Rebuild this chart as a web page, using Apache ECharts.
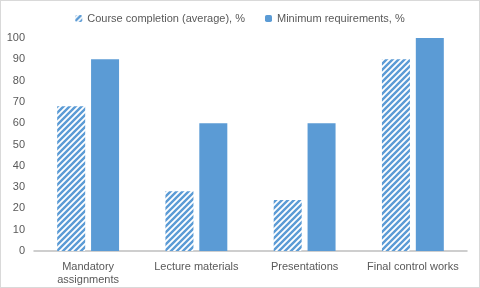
<!DOCTYPE html>
<html>
<head>
<meta charset="utf-8">
<script src="https://cdn.jsdelivr.net/npm/echarts@6/dist/echarts.min.js"></script>
<style>
  html, body { margin: 0; padding: 0; background: #fff; }
  #main { width: 478px; height: 286px; border: 1px solid #d9d9d9; }
</style>
</head>
<body>
<div id="main"></div>
<script>
var categories = ['Mandatory\nassignments', 'Lecture materials', 'Presentations', 'Final control works'];
var completion = [68, 28, 24, 90];
var minimum = [90, 60, 60, 100];
var yTicks = { min: 0, max: 100, interval: 10 };

// striped fill for the "completion" bars
function makeHatch() {
  var c = document.createElement('canvas');
  c.width = 6; c.height = 6;
  var ctx = c.getContext('2d');
  ctx.fillStyle = '#fff';
  ctx.fillRect(0, 0, 6, 6);
  ctx.strokeStyle = '#5B9BD5';
  ctx.lineWidth = 2.4;
  ctx.beginPath();
  ctx.moveTo(-1, 7); ctx.lineTo(7, -1);
  ctx.moveTo(-4, 4); ctx.lineTo(4, -4);
  ctx.moveTo(2, 10); ctx.lineTo(10, 2);
  ctx.stroke();
  return c;
}
var hatch = { image: makeHatch(), repeat: 'repeat' };

var chart = echarts.init(document.getElementById('main'));
var txt = { color: '#595959', fontSize: 11, fontFamily: 'Liberation Sans, Arial, sans-serif' };

var option = {
  animation: false,
  legend: {
    top: 7,
    left: 'center',
    itemWidth: 7,
    itemHeight: 7,
    itemGap: 20,
    textStyle: txt,
    data: ['Course completion (average), %', 'Minimum requirements, %']
  },
  grid: { left: 33, right: 12, top: 37, bottom: 36 },
  xAxis: {
    type: 'category',
    data: categories,
    axisTick: { show: false },
    axisLine: { lineStyle: { color: '#bfbfbf', width: 1.5 } },
    axisLabel: Object.assign({ interval: 0, margin: 9, lineHeight: 13 }, txt)
  },
  yAxis: {
    type: 'value',
    min: yTicks.min,
    max: yTicks.max,
    interval: yTicks.interval,
    splitLine: { show: false },
    axisLine: { show: false },
    axisTick: { show: false },
    axisLabel: Object.assign({ margin: 9 }, txt)
  },
  series: [
    {
      name: 'Course completion (average), %',
      type: 'bar',
      data: completion,
      barWidth: 28,
      barGap: '21%',
      itemStyle: { color: hatch }
    },
    {
      name: 'Minimum requirements, %',
      type: 'bar',
      data: minimum,
      barWidth: 28,
      itemStyle: { color: '#5B9BD5' }
    }
  ]
};
chart.setOption(option);
</script>
</body>
</html>
